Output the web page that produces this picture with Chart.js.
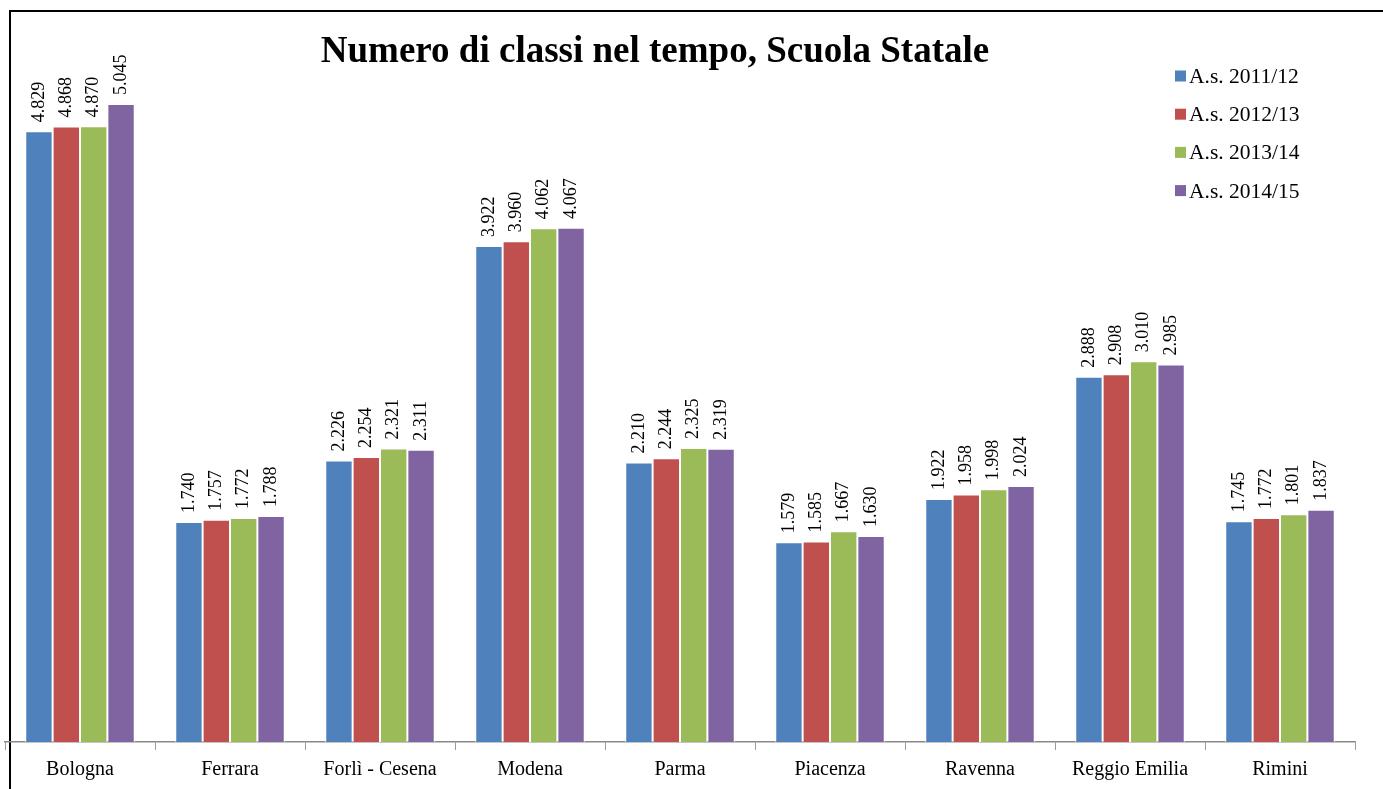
<!DOCTYPE html>
<html>
<head>
<meta charset="utf-8">
<script src="https://cdn.jsdelivr.net/npm/chart.js@4.4.1/dist/chart.umd.min.js"></script>
<style>
  html, body { margin: 0; padding: 0; background: #ffffff; }
  #wrap { position: relative; width: 1383px; height: 789px; }
</style>
</head>
<body>
<div id="wrap"><canvas id="c" width="1383" height="789"></canvas></div>
<script>
const categories = ["Bologna", "Ferrara", "Forlì - Cesena", "Modena", "Parma", "Piacenza", "Ravenna", "Reggio Emilia", "Rimini"];
const seriesNames = ["A.s. 2011/12", "A.s. 2012/13", "A.s. 2013/14", "A.s. 2014/15"];
const as2011 = [4829, 1740, 2226, 3922, 2210, 1579, 1922, 2888, 1745];
const as2012 = [4868, 1757, 2254, 3960, 2244, 1585, 1958, 2908, 1772];
const as2013 = [4870, 1772, 2321, 4062, 2325, 1667, 1998, 3010, 1801];
const as2014 = [5045, 1788, 2311, 4067, 2319, 1630, 2024, 2985, 1837];
const seriesColors = ["#4F81BD", "#C0504D", "#9BBB59", "#8064A2"];
const titleText = "Numero di classi nel tempo, Scuola Statale";

const allSeries = [as2011, as2012, as2013, as2014];

function fmt(v) {
  const s = String(Math.round(v));
  return s.replace(/\B(?=(\d{3})+(?!\d))/g, ".");
}

const SERIF = '"Liberation Serif", "Times New Roman", serif';

const decorPlugin = {
  id: 'decor',
  beforeDraw(chart) {
    const ctx = chart.ctx;
    ctx.save();
    ctx.fillStyle = '#ffffff';
    ctx.fillRect(0, 0, chart.width, chart.height);
    ctx.strokeStyle = '#000000';
    ctx.lineWidth = 2;
    ctx.beginPath();
    ctx.moveTo(10, chart.height);
    ctx.lineTo(10, 11);
    ctx.lineTo(chart.width, 11);
    ctx.stroke();
    ctx.restore();
  },
  afterDatasetsDraw(chart) {
    const ctx = chart.ctx;
    ctx.save();
    // value labels
    ctx.fillStyle = '#000000';
    ctx.font = '18px ' + SERIF;
    ctx.textAlign = 'left';
    ctx.textBaseline = 'middle';
    chart.data.datasets.forEach((ds, di) => {
      const meta = chart.getDatasetMeta(di);
      meta.data.forEach((bar, i) => {
        ctx.save();
        ctx.translate(bar.x, bar.y - 9);
        ctx.rotate(-Math.PI / 2);
        ctx.fillText(fmt(ds.data[i]), 0, 0);
        ctx.restore();
      });
    });
    // title
    ctx.font = 'bold 37px ' + SERIF;
    ctx.textAlign = 'center';
    ctx.textBaseline = 'alphabetic';
    ctx.fillText(titleText, 655, 62);
    // legend
    ctx.font = '21.5px ' + SERIF;
    ctx.textAlign = 'left';
    chart.data.datasets.forEach((ds, di) => {
      const cy = 76 + di * 38.2;
      ctx.fillStyle = ds.backgroundColor;
      ctx.fillRect(1175, cy - 5.5, 11, 11);
      ctx.fillStyle = '#000000';
      ctx.fillText(ds.label, 1189, cy + 7);
    });
    ctx.restore();
  }
};

new Chart(document.getElementById('c'), {
  type: 'bar',
  data: {
    labels: categories,
    datasets: seriesNames.map((name, k) => ({
      label: name,
      data: allSeries[k],
      backgroundColor: seriesColors[k],
      borderColor: '#ffffff',
      borderWidth: { left: 1, right: 1, top: 1, bottom: 0 },
      borderSkipped: 'start',
      barPercentage: 1.0,
      categoryPercentage: 0.73
    }))
  },
  options: {
    responsive: false,
    animation: false,
    devicePixelRatio: 1,
    layout: { padding: { left: 5, right: 28, top: 46.5, bottom: 0 } },
    plugins: {
      legend: { display: false },
      title: { display: false },
      tooltip: { enabled: false }
    },
    scales: {
      x: {
        afterFit(scale) { scale.height = 47; },
        grid: {
          offset: true,
          drawOnChartArea: false,
          drawTicks: true,
          tickLength: 8,
          color: '#9a9a9a',
          lineWidth: 1
        },
        border: { display: true, color: '#8a8a8a', width: 1.5 },
        ticks: {
          color: '#000000',
          font: { family: SERIF, size: 20 },
          padding: 8,
          maxRotation: 0,
          autoSkip: false
        }
      },
      y: {
        display: false,
        min: 0,
        max: 5500,
        grid: { display: false }
      }
    }
  },
  plugins: [decorPlugin]
});
</script>
</body>
</html>
